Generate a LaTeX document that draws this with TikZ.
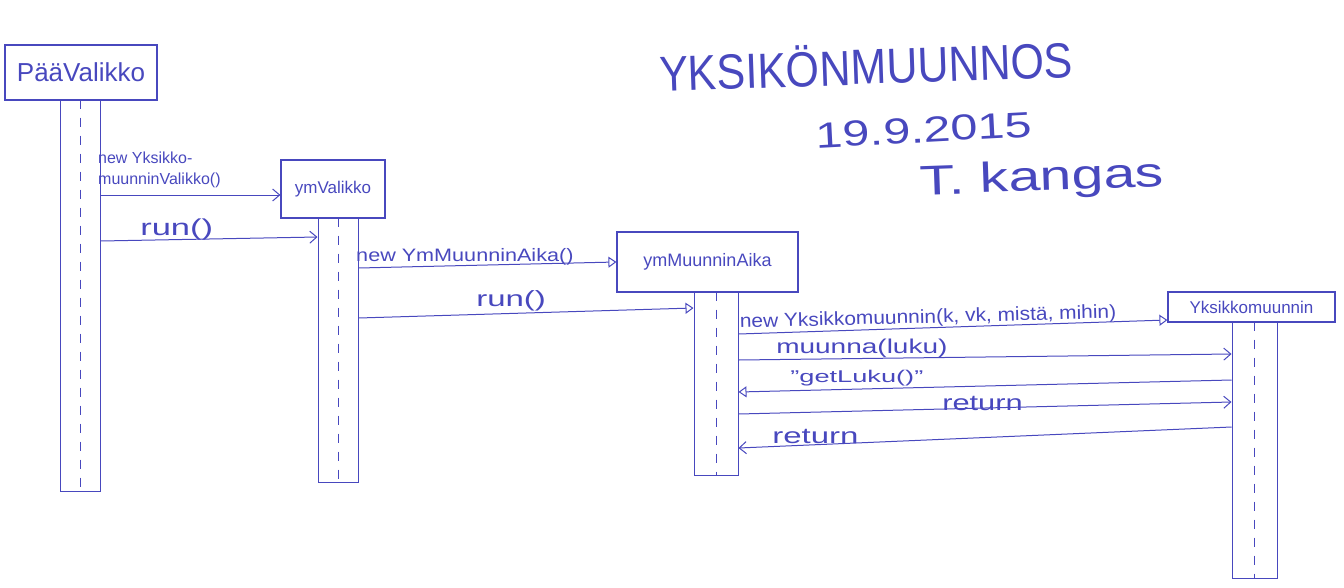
\documentclass[tikz,border=0pt]{standalone}
\usepackage{fontspec}
\setmainfont{Liberation Sans}
\usetikzlibrary{arrows.meta}
\definecolor{ink}{RGB}{72,72,190}
\tikzset{
  obj/.style={draw=ink, line width=1.2pt, rectangle, inner sep=0pt, text=ink},
  bar/.style={draw=ink, line width=1pt, rectangle, inner sep=0pt},
  life/.style={draw=ink, line width=1pt, dash pattern=on 9pt off 9pt},
  msg/.style={draw=ink, line width=1pt, -{Straight Barb[length=7pt,width=12pt]}},
  msgt/.style={draw=ink, line width=1pt, -{Triangle[open,length=8pt,width=11pt]}},
  lbl/.style={text=ink, inner sep=0pt, anchor=south west},
}
\begin{document}
\begin{tikzpicture}[x=1pt,y=-1pt]
\useasboundingbox (0,0) rectangle (1344,587);
% objects
\node[obj, minimum width=152pt, minimum height=55pt, font=\fontsize{26}{28}\selectfont] (pv) at (81,72.5) {PääValikko};
\node[obj, minimum width=104pt, minimum height=58pt, font=\fontsize{17}{19}\selectfont] (ymv) at (333,189) {ymValikko};
\node[obj, minimum width=181pt, minimum height=60pt, font=\fontsize{18}{20}\selectfont] (yma) at (707.5,262) {ymMuunninAika};
\node[obj, minimum width=167pt, minimum height=30pt, font=\fontsize{17}{19}\selectfont] (yk) at (1251.5,307) {Yksikkomuunnin};
% activation bars
\node[bar, minimum width=40pt, minimum height=391pt] (pvb) at (80,295.5) {};
\node[bar, minimum width=40pt, minimum height=264pt] (ymvb) at (338,350) {};
\node[bar, minimum width=44pt, minimum height=183pt] (ymab) at (716,383.5) {};
\node[bar, minimum width=45pt, minimum height=256pt] (ykb) at (1254.5,450) {};
% lifelines
\draw[life] (pvb.north) -- (pvb.south);
\draw[life] (ymvb.north) -- (ymvb.south);
\draw[life] (ymab.north) -- (ymab.south);
\draw[life] (ykb.north) -- (ykb.south);
% title
\node[text=ink, font=\fontsize{43}{47}\selectfont, rotate=2, yscale=1.15] (title) at (866,64) {YKSIKÖNMUUNNOS};
\node[text=ink, font=\fontsize{36}{40}\selectfont, rotate=3, xscale=1.35] (date) at (924,130) {19.9.2015};
\node[text=ink, font=\fontsize{38}{42}\selectfont, rotate=2, xscale=1.5, yscale=1.1] (author) at (1042,180) {T. kangas};
% messages
\draw[msg] (pvb.east |- 0,195) -- (ymv.west |- 0,195);
\node[lbl, font=\fontsize{16}{21}\selectfont, align=left] (l1) at (98,188) {new Yksikko-\\muunninValikko()};
\draw[msg] (pvb.east |- 0,241) -- (ymvb.west |- 0,237);
\node[lbl, font=\fontsize{23}{25}\selectfont, xscale=1.5] (l2) at (140,240) {run()};
\draw[msgt] (ymvb.east |- 0,268) -- (yma.west |- 0,262);
\node[lbl, font=\fontsize{18}{20}\selectfont, xscale=1.2] (l3) at (356,265) {new YmMuunninAika()};
\draw[msgt] (ymvb.east |- 0,318) -- (ymab.west |- 0,308);
\node[lbl, font=\fontsize{22}{24}\selectfont, xscale=1.5] (l4) at (476,311) {run()};
\draw[msgt] (ymab.east |- 0,334) -- (yk.west |- 0,320);
\node[lbl, font=\fontsize{19}{21}\selectfont, rotate=1.5, xscale=1.1] (l5) at (740,332) {new Yksikkomuunnin(k, vk, mistä, mihin)};
\draw[msg] (ymab.east |- 0,360) -- (ykb.west |- 0,354);
\node[lbl, font=\fontsize{20}{22}\selectfont, xscale=1.4] (l6) at (776,358) {muunna(luku)};
\draw[msgt] (ykb.west |- 0,380) -- (ymab.east |- 0,392);
\node[lbl, font=\fontsize{17}{19}\selectfont, xscale=1.6] (l7) at (790,386) {"getLuku()"};
\draw[msg] (ymab.east |- 0,414) -- (ykb.west |- 0,402);
\node[lbl, font=\fontsize{22}{24}\selectfont, xscale=1.4] (l8) at (942,411) {return};
\draw[msg] (ykb.west |- 0,427) -- (ymab.east |- 0,448);
\node[lbl, font=\fontsize{22}{24}\selectfont, xscale=1.5] (l9) at (772,444) {return};
\end{tikzpicture}
\end{document}
